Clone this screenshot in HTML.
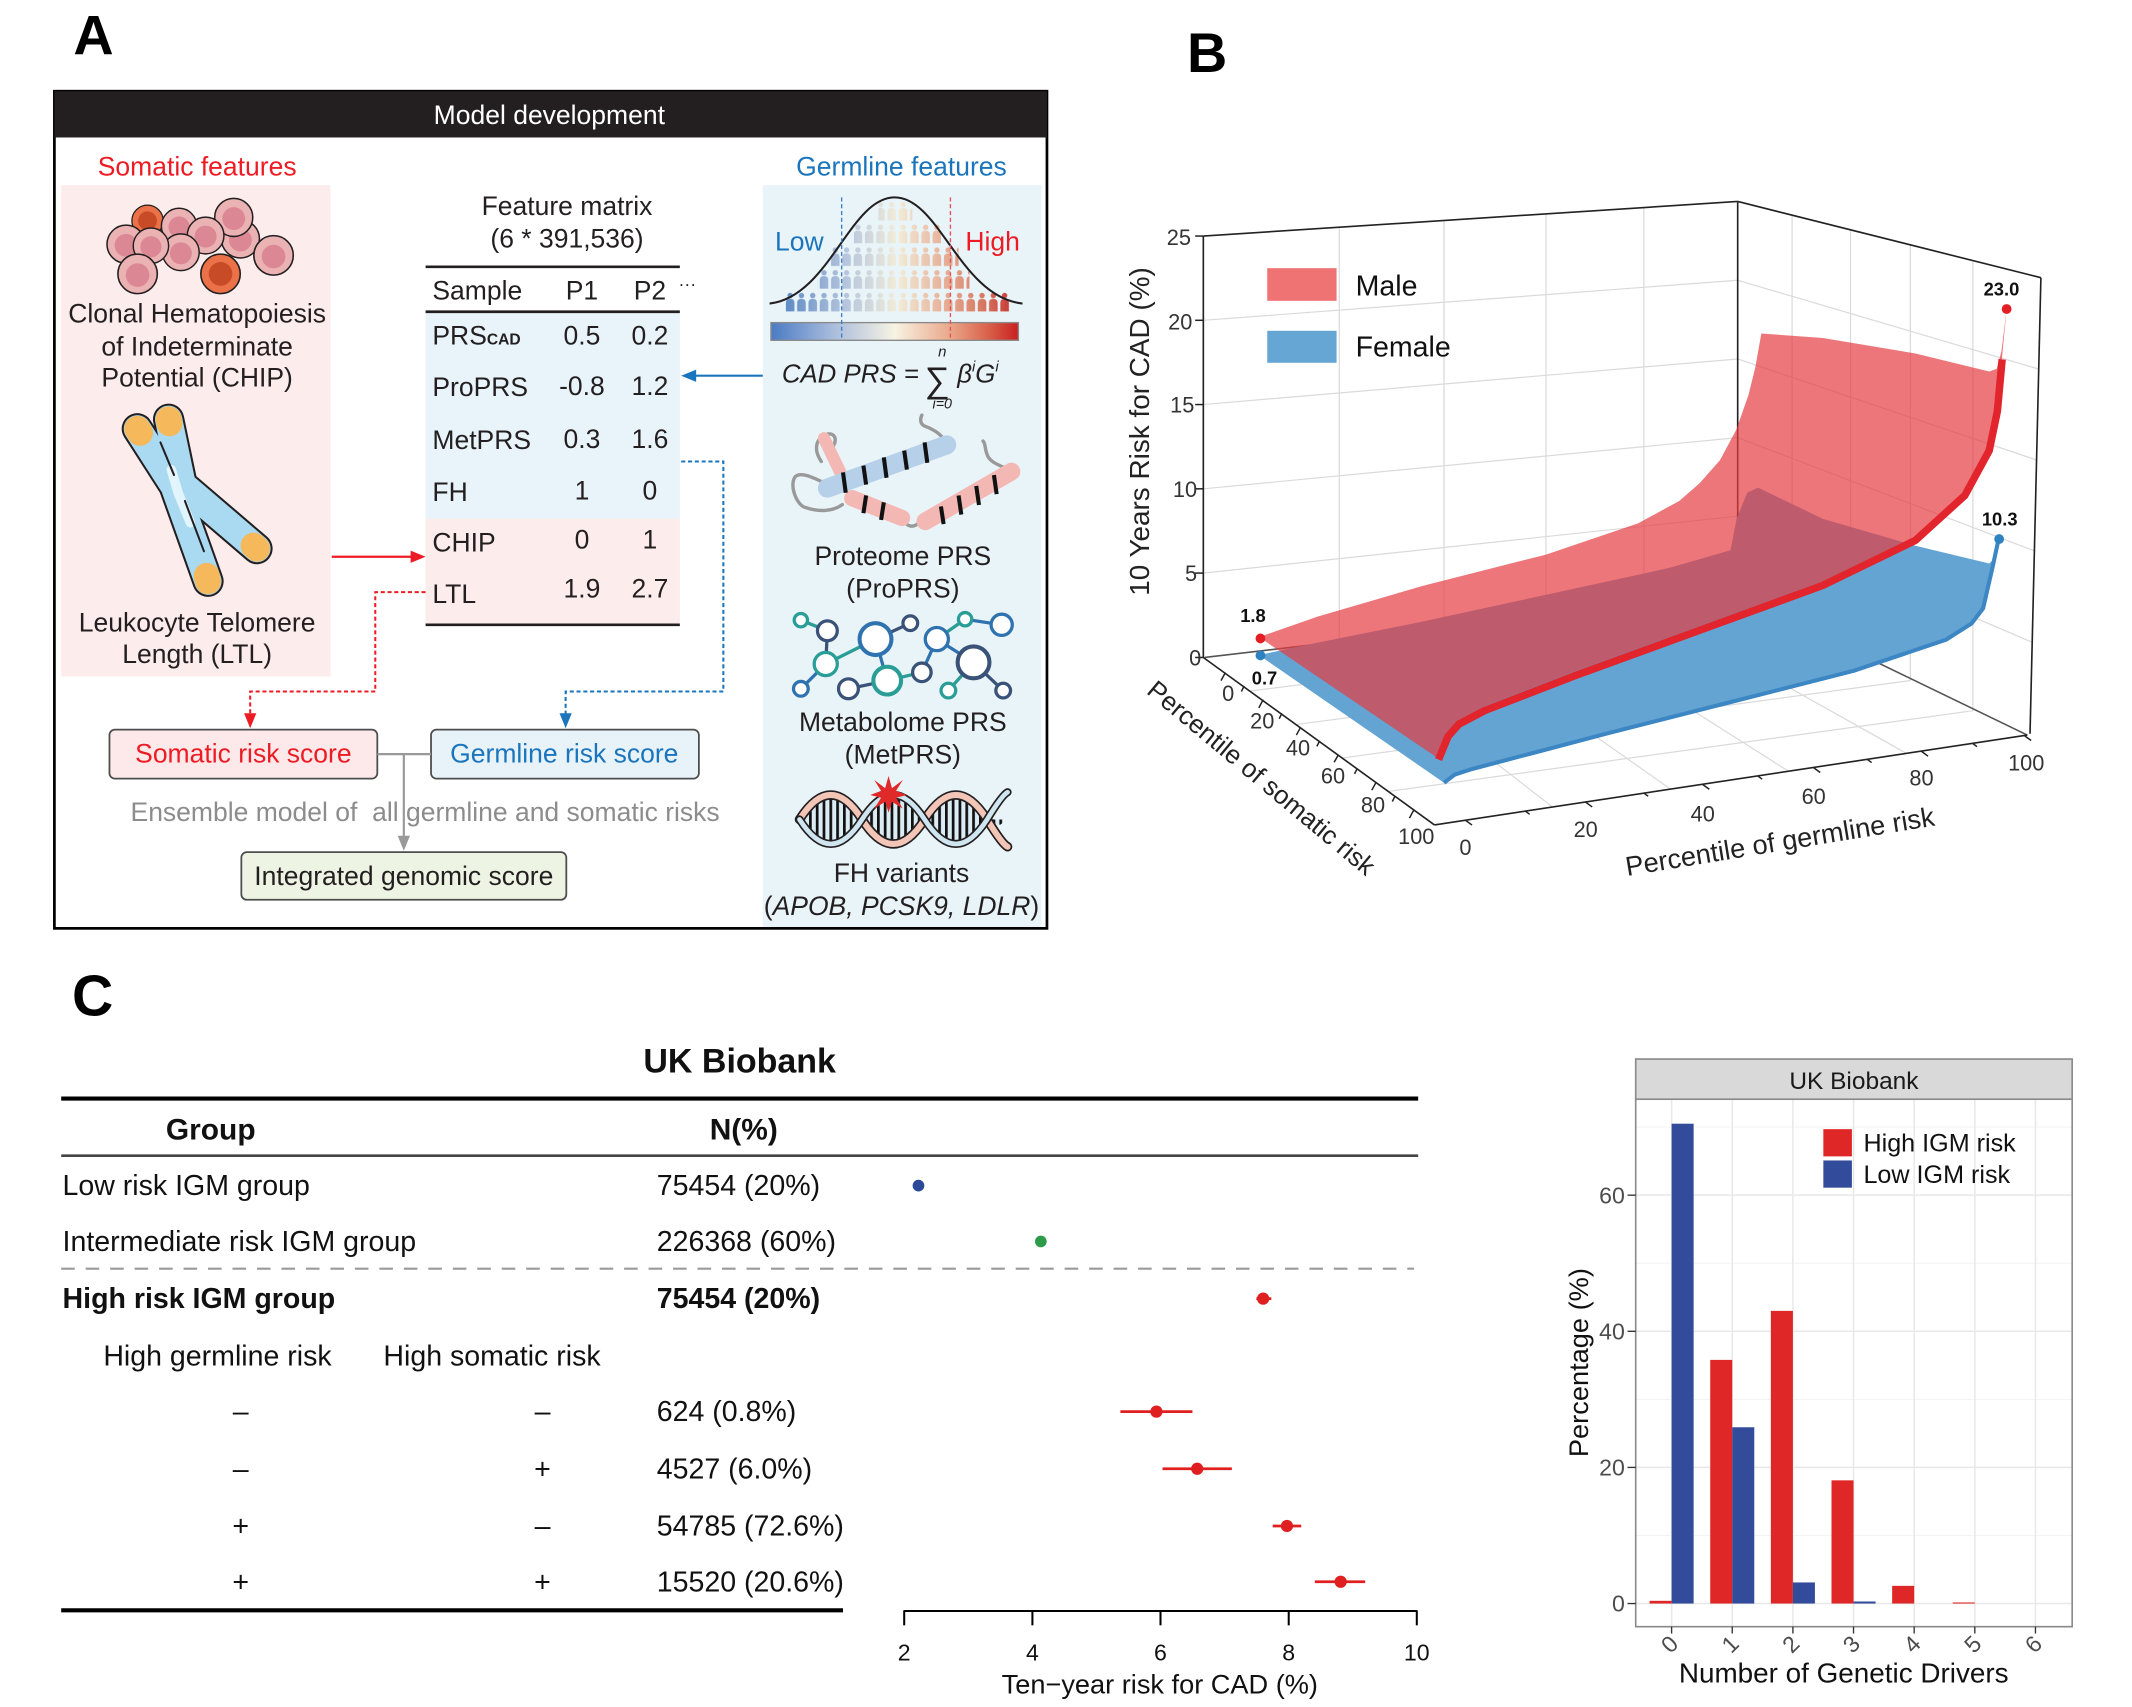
<!DOCTYPE html>
<html><head><meta charset="utf-8"><style>html,body{margin:0;padding:0;background:#fff;}svg{display:block;}</style></head>
<body>
<svg width="2132" height="1707" viewBox="0 0 1568 1254" preserveAspectRatio="none" xmlns="http://www.w3.org/2000/svg" font-family="'Liberation Sans', Arial, sans-serif">
<defs>
<linearGradient id="cbar" x1="0" x2="1" y1="0" y2="0">
<stop offset="0" stop-color="#4a7bc4"/><stop offset="0.25" stop-color="#a9bcdc"/><stop offset="0.5" stop-color="#f7f3e3"/><stop offset="0.72" stop-color="#eaa98c"/><stop offset="0.88" stop-color="#d9604a"/><stop offset="1" stop-color="#c8201f"/>
</linearGradient>
<linearGradient id="pg" gradientUnits="userSpaceOnUse" x1="577" x2="743" y1="0" y2="0">
<stop offset="0" stop-color="#4f7fc0"/><stop offset="0.28" stop-color="#b3c2da"/><stop offset="0.5" stop-color="#f3ecd6"/><stop offset="0.72" stop-color="#e6a488"/><stop offset="0.88" stop-color="#d66a50"/><stop offset="1" stop-color="#c42a25"/>
</linearGradient>
<pattern id="pp" patternUnits="userSpaceOnUse" x="577" y="148" width="8.3" height="16.7">
<circle cx="4.15" cy="2.3" r="2" fill="#fff"/>
<path d="M1,14 L1,7.5 Q1,4.7 4.15,4.7 Q7.3,4.7 7.3,7.5 L7.3,14 Z" fill="#fff"/>
</pattern>
<mask id="pm" maskUnits="userSpaceOnUse" x="560" y="140" width="200" height="100">
<rect x="646" y="148" width="25" height="15" fill="url(#pp)"/>
<rect x="628" y="164.7" width="64" height="15" fill="url(#pp)"/>
<rect x="611" y="181.4" width="94" height="15" fill="url(#pp)"/>
<rect x="601" y="198.1" width="112" height="15" fill="url(#pp)"/>
<rect x="577" y="214.8" width="166" height="15" fill="url(#pp)"/>
</mask>
<pattern id="stripes" patternUnits="userSpaceOnUse" width="5" height="10">
<rect width="5" height="10" fill="#dcecf5"/><rect width="2" height="10" fill="#111"/>
</pattern>
<g id="cellp"><circle r="1" fill="#ebb2b4" stroke="#231f20" stroke-width="0.08"/><circle r="0.6" cy="0.06" fill="#dc8894"/></g>
</defs>

<!-- ============ PANEL A ============ -->
<text x="54" y="40" font-size="41" font-weight="bold">A</text>
<rect x="40" y="67" width="730" height="615" fill="#fff" stroke="#000" stroke-width="2"/>
<rect x="40" y="67" width="730" height="34" fill="#231f20"/>
<text x="404" y="91" font-size="19.5" fill="#fff" text-anchor="middle">Model development</text>

<text x="145" y="129" font-size="19.5" fill="#ed1c24" text-anchor="middle">Somatic features</text>
<rect x="45" y="136" width="198" height="361" fill="#fdecec"/>
<!-- cells -->
<g>
<g transform="translate(108.5,162.2) scale(11.5)"><circle r="1" fill="#ea7148" stroke="#231f20" stroke-width="0.08"/><circle r="0.6" fill="#c64b26"/></g>
<use href="#cellp" transform="translate(131.7,166) scale(13)"/>
<use href="#cellp" transform="translate(176.8,175.5) scale(14)"/>
<use href="#cellp" transform="translate(171.9,159.7) scale(14)"/>
<use href="#cellp" transform="translate(151.2,173) scale(13.5)"/>
<use href="#cellp" transform="translate(133,185.3) scale(13.5)"/>
<use href="#cellp" transform="translate(92.7,179.4) scale(14)"/>
<use href="#cellp" transform="translate(111,180.5) scale(13)"/>
<use href="#cellp" transform="translate(201.2,187.6) scale(14.5)"/>
<use href="#cellp" transform="translate(101.2,201.2) scale(14.5)"/>
<g transform="translate(162.2,201.2) scale(14.5)"><circle r="1" fill="#ea7148" stroke="#231f20" stroke-width="0.08"/><circle r="0.6" fill="#c64b26"/></g>
</g>
<text font-size="19.5" fill="#231f20" text-anchor="middle"><tspan x="145" y="237">Clonal Hematopoiesis</tspan><tspan x="145" y="261">of Indeterminate</tspan><tspan x="145" y="284">Potential (CHIP)</tspan></text>
<!-- chromosome -->
<g fill="none" stroke-linecap="round" stroke-linejoin="round">
<path d="M101,315 L128,357 L153,427" stroke="#231f20" stroke-width="23"/>
<path d="M124,308 L134,356 L189,403" stroke="#231f20" stroke-width="23"/>
<path d="M101,315 L128,357 L153,427" stroke="#a9daf2" stroke-width="20"/>
<path d="M124,308 L134,356 L189,403" stroke="#a9daf2" stroke-width="20"/>
<path d="M126,345 L131,362 L140,384" stroke="#e2f4fc" stroke-width="7"/>
<line x1="101" y1="315" x2="103" y2="318" stroke="#f5b85a" stroke-width="19"/>
<line x1="152" y1="423" x2="153" y2="427" stroke="#f5b85a" stroke-width="19"/>
<line x1="124" y1="308" x2="124.6" y2="311" stroke="#f5b85a" stroke-width="19"/>
<line x1="186.5" y1="400.8" x2="189" y2="403" stroke="#f5b85a" stroke-width="19"/>
<path d="M118,325 L128,349" stroke="#231f20" stroke-width="1.5"/>
<path d="M136,368 L150,405" stroke="#231f20" stroke-width="1.5"/>
</g>
<text font-size="19.5" fill="#231f20" text-anchor="middle"><tspan x="145" y="464">Leukocyte Telomere</tspan><tspan x="145" y="487">Length (LTL)</tspan></text>

<!-- Feature matrix -->
<text font-size="19.5" fill="#231f20" text-anchor="middle"><tspan x="417" y="158">Feature matrix</tspan><tspan x="417" y="182">(6 * 391,536)</tspan></text>
<rect x="313" y="229" width="187" height="152" fill="#e8f4fa"/>
<rect x="313" y="381" width="187" height="78" fill="#fdecec"/>
<line x1="313" y1="196" x2="500" y2="196" stroke="#231f20" stroke-width="2"/>
<line x1="313" y1="229" x2="500" y2="229" stroke="#231f20" stroke-width="2"/>
<line x1="313" y1="459" x2="500" y2="459" stroke="#231f20" stroke-width="2"/>
<g font-size="19.5" fill="#231f20">
<text x="318" y="220">Sample</text><text x="428" y="220" text-anchor="middle">P1</text><text x="478" y="220" text-anchor="middle">P2</text>
<text x="499" y="213" font-size="13">···</text>
<text x="318" y="253">PRS<tspan font-size="11.5" font-weight="bold">CAD</tspan></text><text x="428" y="253" text-anchor="middle">0.5</text><text x="478" y="253" text-anchor="middle">0.2</text>
<text x="318" y="291">ProPRS</text><text x="428" y="290" text-anchor="middle">-0.8</text><text x="478" y="290" text-anchor="middle">1.2</text>
<text x="318" y="330">MetPRS</text><text x="428" y="329" text-anchor="middle">0.3</text><text x="478" y="329" text-anchor="middle">1.6</text>
<text x="318" y="368">FH</text><text x="428" y="367" text-anchor="middle">1</text><text x="478" y="367" text-anchor="middle">0</text>
<text x="318" y="405">CHIP</text><text x="428" y="403" text-anchor="middle">0</text><text x="478" y="403" text-anchor="middle">1</text>
<text x="318" y="443">LTL</text><text x="428" y="439" text-anchor="middle">1.9</text><text x="478" y="439" text-anchor="middle">2.7</text>
</g>

<!-- Germline features -->
<text x="663" y="129" font-size="19.5" fill="#1b75bc" text-anchor="middle">Germline features</text>
<rect x="561" y="136" width="205" height="545" fill="#e9f4f9"/>
<rect x="575" y="145" width="170" height="90" fill="url(#pg)" mask="url(#pm)" opacity="0.9"/>
<path d="M566,223 C610,218 625,145 658,145 C691,145 706,218 752,223" fill="none" stroke="#231f20" stroke-width="1.5"/>
<rect x="567" y="237" width="182" height="13" fill="url(#cbar)" stroke="#8a8a8a" stroke-width="1"/>
<line x1="619" y1="145" x2="619" y2="250" stroke="#3c7fc8" stroke-width="1" stroke-dasharray="3,2"/>
<line x1="699" y1="145" x2="699" y2="250" stroke="#e8505a" stroke-width="1" stroke-dasharray="3,2"/>
<text x="570" y="184" font-size="19.5" fill="#1b75bc">Low</text>
<text x="710" y="184" font-size="19.5" fill="#ed1c24">High</text>
<g fill="#231f20" font-style="italic">
<text x="575" y="281" font-size="19">CAD PRS =</text>
<text x="680" y="288" font-size="26" font-style="normal">∑</text>
<text x="693" y="262" font-size="11" text-anchor="middle">n</text>
<text x="693" y="300" font-size="10.5" text-anchor="middle">i=0</text>
<text x="704" y="281" font-size="19">β<tspan dy="-8" font-size="11">i</tspan><tspan dy="8" font-size="19">G</tspan><tspan dy="-8" font-size="11">i</tspan></text>
</g>
<!-- protein -->
<g fill="none" stroke-linecap="round" stroke-linejoin="round">
<path d="M611,357 C600,352 590,346 585,350 C580,356 586,372 593,373 C602,376 612,376 619.5,370.7" stroke="#999" stroke-width="2.5"/>
<path d="M604,339 C598,330 600,322 608,319 C616,317 616,327 610,330" stroke="#999" stroke-width="2.5"/>
<path d="M696,327 C694,320 688,316 680,313 C676,311 677,307 678,305" stroke="#999" stroke-width="2.5"/>
<path d="M663,380 C667,388 673,389 678,381" stroke="#999" stroke-width="2.5"/>
<path d="M744,346 C736,342 728,340 726,334 C724,329 725,326 723,324" stroke="#999" stroke-width="2.5"/>
<path d="M606,322 L619,349" stroke="#f4b8b4" stroke-width="9"/>
<path d="M608.5,358.6 L696.3,326.8" stroke="#b7d0ea" stroke-width="14"/>
<path d="M626.8,366 L663.4,380.5" stroke="#f4b8b4" stroke-width="12"/>
<path d="M680.5,383 L743.9,346.4" stroke="#f4b8b4" stroke-width="13"/>
</g>
<g stroke="#111" stroke-width="3">
<line x1="620" y1="347" x2="622" y2="362"/><line x1="635" y1="342" x2="637" y2="356"/><line x1="650" y1="336" x2="652" y2="351"/><line x1="665" y1="331" x2="667" y2="345"/><line x1="680" y1="325" x2="682" y2="340"/>
<line x1="637" y1="364" x2="635" y2="377"/><line x1="650" y1="369" x2="648" y2="382"/>
<line x1="692" y1="372" x2="694" y2="385"/><line x1="705" y1="364" x2="707" y2="378"/><line x1="718" y1="357" x2="720" y2="371"/><line x1="731" y1="349" x2="733" y2="363"/>
</g>
<text font-size="19.5" fill="#231f20" text-anchor="middle"><tspan x="664" y="415">Proteome PRS</tspan><tspan x="664" y="439">(ProPRS)</tspan></text>
<!-- network -->
<g stroke-width="2.4">
<line x1="589" y1="455.6" x2="608.5" y2="463.4" stroke="#2a9d96"/>
<line x1="608.5" y1="463.4" x2="607.3" y2="487.8" stroke="#3a5278"/>
<line x1="607.3" y1="487.8" x2="643.9" y2="469.5" stroke="#2a9d96"/>
<line x1="643.9" y1="469.5" x2="669.5" y2="457.8" stroke="#3a5278"/>
<line x1="643.9" y1="469.5" x2="652.5" y2="500" stroke="#2f72b0"/>
<line x1="607.3" y1="487.8" x2="589" y2="506" stroke="#2f72b0"/>
<line x1="624" y1="506" x2="652.5" y2="500" stroke="#3a5278"/>
<line x1="652.5" y1="500" x2="678" y2="493.9" stroke="#2a9d96"/>
<line x1="678" y1="493.9" x2="689" y2="469.5" stroke="#2f72b0"/>
<line x1="689" y1="469.5" x2="709.8" y2="454.9" stroke="#2a9d96"/>
<line x1="709.8" y1="454.9" x2="736.7" y2="459" stroke="#2f72b0"/>
<line x1="689" y1="469.5" x2="716" y2="486.6" stroke="#2f72b0"/>
<line x1="716" y1="486.6" x2="697.5" y2="507.3" stroke="#2a9d96"/>
<line x1="716" y1="486.6" x2="737.8" y2="507.3" stroke="#3a5278"/>
</g>
<g fill="#fff" stroke-width="2.4">
<circle cx="589" cy="455.6" r="4.9" stroke="#2a9d96"/>
<circle cx="608.5" cy="463.4" r="7.3" stroke="#3a5278"/>
<circle cx="643.9" cy="469.5" r="11.7" stroke="#2f72b0" stroke-width="3"/>
<circle cx="669.5" cy="457.8" r="5.4" stroke="#3a5278"/>
<circle cx="689" cy="469.5" r="8.5" stroke="#2f72b0"/>
<circle cx="709.8" cy="454.9" r="4.9" stroke="#2a9d96"/>
<circle cx="736.7" cy="459" r="7.8" stroke="#2f72b0"/>
<circle cx="607.3" cy="487.8" r="8.5" stroke="#2a9d96"/>
<circle cx="589" cy="506" r="5.4" stroke="#2f72b0"/>
<circle cx="624" cy="506" r="7.3" stroke="#3a5278"/>
<circle cx="652.5" cy="500" r="10.2" stroke="#2a9d96" stroke-width="3"/>
<circle cx="678" cy="493.9" r="6.8" stroke="#3a5278"/>
<circle cx="716" cy="486.6" r="11.7" stroke="#3a5278" stroke-width="3"/>
<circle cx="697.5" cy="507.3" r="5.4" stroke="#2a9d96"/>
<circle cx="737.8" cy="507.3" r="5.4" stroke="#3a5278"/>
</g>
<text font-size="19.5" fill="#231f20" text-anchor="middle"><tspan x="664" y="537">Metabolome PRS</tspan><tspan x="664" y="561">(MetPRS)</tspan></text>
<!-- DNA -->
<g>
<path d="M590,602 Q611,566 634,602 T680,602 T726,602 L738,602 Q737,610 726,602 Q703,638 680,602 Q657,566 634,602 Q611,638 590,602 Z" fill="url(#stripes)"/>
<path d="M588,602 Q611,566 634,602 T680,602 T726,602 Q737,620 741,622" fill="none" stroke="#231f20" stroke-width="7" stroke-linecap="round"/>
<path d="M588,602 Q611,566 634,602 T680,602 T726,602 Q737,620 741,622" fill="none" stroke="#f3c5b7" stroke-width="4.5" stroke-linecap="round"/>
<path d="M588,602 Q611,638 634,602 T680,602 T726,602 Q737,584 741,582" fill="none" stroke="#231f20" stroke-width="6" stroke-linecap="round"/>
<path d="M588,602 Q611,638 634,602 T680,602 T726,602 Q737,584 741,582" fill="none" stroke="#cfe5f0" stroke-width="3.5" stroke-linecap="round"/>
<polygon points="653.5,570 656,579 664,573 659,581 667,584 659,586 664,594 656,589 653.5,597 651,589 643,594 648,586 640,584 648,581 643,573 651,579" fill="#e02a2a"/>
</g>
<text x="663" y="648" font-size="19.5" fill="#231f20" text-anchor="middle">FH variants</text>
<text x="663" y="672" font-size="19.5" fill="#231f20" text-anchor="middle">(<tspan font-style="italic">APOB, PCSK9, LDLR</tspan>)</text>

<!-- arrows -->
<line x1="561" y1="276" x2="510" y2="276" stroke="#1b75bc" stroke-width="1.6"/>
<polygon points="501,276 512,271.5 512,280.5" fill="#1b75bc"/>
<line x1="244" y1="409" x2="304" y2="409" stroke="#ed1c24" stroke-width="1.6"/>
<polygon points="313,409 302,404.5 302,413.5" fill="#ed1c24"/>
<polyline points="313,435 276,435 276,508 184,508 184,526" fill="none" stroke="#ed1c24" stroke-width="1.5" stroke-dasharray="3,2"/>
<polygon points="184,535 179.5,524 188.5,524" fill="#ed1c24"/>
<polyline points="501,339 532,339 532,508 416,508 416,526" fill="none" stroke="#1b75bc" stroke-width="1.5" stroke-dasharray="3,2"/>
<polygon points="416,535 411.5,524 420.5,524" fill="#1b75bc"/>

<!-- score boxes -->
<rect x="80.5" y="536" width="197" height="36" rx="4" fill="#fde9e9" stroke="#4d4d4d" stroke-width="1.3"/>
<text x="179" y="560" font-size="19.5" fill="#ed1c24" text-anchor="middle">Somatic risk score</text>
<rect x="317" y="536" width="197" height="36" rx="4" fill="#e7f3f9" stroke="#4d4d4d" stroke-width="1.3"/>
<text x="415" y="560" font-size="19.5" fill="#1b75bc" text-anchor="middle">Germline risk score</text>
<line x1="277.5" y1="554" x2="317" y2="554" stroke="#999" stroke-width="1.6"/>
<line x1="297" y1="554" x2="297" y2="616" stroke="#999" stroke-width="1.6"/>
<polygon points="297,625 292.5,614 301.5,614" fill="#999"/>
<text x="96" y="603" font-size="19.5" fill="#8c8c8c">Ensemble model of&#160; all germline and somatic risks</text>
<rect x="177.5" y="626" width="239" height="35" rx="4" fill="#eef4e3" stroke="#4d4d4d" stroke-width="1.3"/>
<text x="297" y="650" font-size="19.5" fill="#231f20" text-anchor="middle">Integrated genomic score</text>

<!-- ============ PANEL B ============ -->
<text x="873" y="53" font-size="41" font-weight="bold">B</text>
<g stroke="#dadada" stroke-width="0.9" fill="none">
<line x1="985" y1="167" x2="985" y2="471.3"/><line x1="1062" y1="162" x2="1062" y2="462.4"/><line x1="1137" y1="157.2" x2="1137" y2="453.6"/><line x1="1209" y1="152.5" x2="1209" y2="445.2"/>
<line x1="885" y1="235.3" x2="1278" y2="205.9"/><line x1="885" y1="297.2" x2="1278" y2="263.7"/><line x1="885" y1="359.1" x2="1278" y2="321.5"/><line x1="885" y1="421" x2="1278" y2="379.2"/>
<line x1="1278" y1="205.9" x2="1499" y2="271"/><line x1="1278" y1="263.7" x2="1498" y2="338"/><line x1="1278" y1="321.5" x2="1497" y2="405"/><line x1="1278" y1="379.2" x2="1495" y2="472"/>
<line x1="1318" y1="157.7" x2="1318" y2="457.8"/><line x1="1361" y1="168.6" x2="1361" y2="478.6"/><line x1="1405" y1="179.7" x2="1405" y2="499.9"/><line x1="1451" y1="191.3" x2="1451" y2="522.1"/>
<line x1="985" y1="471.3" x2="1141.9" y2="592.9"/><line x1="1062" y1="462.4" x2="1228.7" y2="579.8"/><line x1="1137" y1="453.6" x2="1315.6" y2="566.7"/><line x1="1209" y1="445.2" x2="1402.4" y2="553.6"/>
<line x1="919.8" y1="507.6" x2="1318" y2="457.8"/><line x1="953.6" y1="532.2" x2="1361" y2="478.6"/><line x1="987.4" y1="556.8" x2="1405" y2="499.9"/><line x1="1021.2" y1="581.4" x2="1451" y2="522.1"/>
</g>
<g stroke="#222" stroke-width="1.2" fill="none">
<line x1="885" y1="173.4" x2="1278" y2="148"/>
<line x1="1278" y1="148" x2="1501" y2="204"/>
<line x1="1278" y1="148" x2="1278" y2="437"/>
<line x1="1501" y1="204" x2="1493" y2="539"/>
<line x1="886" y1="483" x2="1278" y2="437" stroke="#555"/>
<line x1="1278" y1="437" x2="1491" y2="540" stroke="#555"/>
<line x1="885" y1="173.4" x2="885" y2="483"/>
<line x1="885" y1="483" x2="1055" y2="606"/>
<line x1="1055" y1="606" x2="1491" y2="540"/>
</g>
<g stroke="#222" stroke-width="1.1">
<line x1="879" y1="173.4" x2="885" y2="173.4"/><line x1="879" y1="235.3" x2="885" y2="235.3"/><line x1="879" y1="297.2" x2="885" y2="297.2"/><line x1="879" y1="359.1" x2="885" y2="359.1"/><line x1="879" y1="421" x2="885" y2="421"/><line x1="879" y1="483" x2="885" y2="483"/>
<line x1="901.2" y1="494.1" x2="898" y2="500"/><line x1="929" y1="514" x2="925.8" y2="520"/><line x1="956.6" y1="534.2" x2="953.4" y2="540"/><line x1="984.4" y1="554.4" x2="981.2" y2="560"/><line x1="1012.1" y1="574.6" x2="1008.9" y2="580.5"/><line x1="1039.8" y1="595" x2="1036.6" y2="601"/>
<line x1="915" y1="504" x2="913" y2="508"/><line x1="942.8" y1="524" x2="940.8" y2="528"/><line x1="970.5" y1="544.3" x2="968.5" y2="548.3"/><line x1="998.2" y1="564.5" x2="996.2" y2="568.5"/><line x1="1026" y1="584.8" x2="1024" y2="588.8"/>
<line x1="1077.8" y1="602.6" x2="1082.6" y2="606.1"/><line x1="1166.2" y1="589.3" x2="1171" y2="592.8"/><line x1="1252.3" y1="576.3" x2="1257.1" y2="579.8"/><line x1="1333.9" y1="564" x2="1338.7" y2="567.5"/><line x1="1413.2" y1="552" x2="1418" y2="555.5"/><line x1="1489" y1="540.5" x2="1493.8" y2="544"/>
<line x1="1122" y1="596" x2="1125" y2="598.2"/><line x1="1209.2" y1="582.8" x2="1212.2" y2="585"/><line x1="1293" y1="570.2" x2="1296" y2="572.4"/><line x1="1373.5" y1="558" x2="1376.5" y2="560.2"/><line x1="1451" y1="546.3" x2="1454" y2="548.5"/>
</g>
<g font-size="16" fill="#333" text-anchor="middle">
<text x="867" y="180">25</text><text x="868" y="242">20</text><text x="869.5" y="303">15</text><text x="871.5" y="365">10</text><text x="876" y="427">5</text><text x="879" y="489">0</text>
<text x="903.3" y="515">0</text><text x="928.3" y="535">20</text><text x="954.6" y="555">40</text><text x="980.4" y="575.5">60</text><text x="1009.8" y="597">80</text><text x="1041.6" y="620">100</text>
<text x="1077.8" y="628">0</text><text x="1166.2" y="615">20</text><text x="1252.3" y="603.5">40</text><text x="1333.9" y="590.5">60</text><text x="1413.2" y="577">80</text><text x="1490.2" y="566">100</text>
</g>
<!-- surfaces -->
<path d="M926,481.3 L1062,575 L1070,569 L1082.4,565 L1182,538.8 L1272.7,515.8 L1363.3,492.8 L1431.3,469.9 L1450,458 L1458.5,446.9 L1465.3,417.3 L1469.9,396 L1465,412 L1463,414 L1408.7,400.9 L1340.7,381.2 L1293,358.2 L1285,362 L1277.2,381.2 L1272.7,404.2 L1227.4,417.3 L1136.7,437 L1046,456.7 L955.5,474.8 Z" fill="#63a4d3"/>
<path d="M1062,575 L1070,569 L1082.4,565 L1182,538.8 L1272.7,515.8 L1363.3,492.8 L1431.3,469.9 L1450,458 L1458.5,446.9 L1465.3,417.3 L1469.9,396" fill="none" stroke="#3c86c4" stroke-width="3"/>
<path d="M926,468 L969,453 L1046,430.5 L1136.7,407.5 L1204.7,384.5 L1235,368 L1250,355 L1265,338 L1277,315.6 L1286,290 L1291,269.6 L1295.4,245 L1340.7,248.3 L1408.7,259.7 L1463,272.9 L1468.5,271 L1472,258 L1475.8,227 L1472.5,262 L1469,300 L1463,328.7 L1445,361.5 L1408.7,394.3 L1340.7,427.2 L1250,460 L1159.4,492.8 L1091.4,519.1 L1072,530 L1064.2,538.8 L1057.4,556.9 Z" fill="rgb(230,60,65)" fill-opacity="0.7"/>
<path d="M1058,558 L1065,541 L1073,532 L1092,522 L1159.4,496 L1250,463 L1340.7,430 L1408.7,397 L1445,364 L1463,331 L1469,302 L1472.5,264" fill="none" stroke="rgb(226,36,44)" stroke-width="5.5"/>
<circle cx="927" cy="469" r="3.6" fill="#e31e24"/>
<circle cx="927" cy="481.5" r="3.6" fill="#2f82c0"/>
<circle cx="1475.8" cy="227" r="3.6" fill="#e31e24"/>
<circle cx="1470.3" cy="396" r="3.6" fill="#2f82c0"/>
<g font-size="13.5" font-weight="bold" fill="#111" text-anchor="middle">
<text x="921.5" y="457">1.8</text><text x="930" y="503">0.7</text><text x="1472" y="217">23.0</text><text x="1470.7" y="386">10.3</text>
</g>
<rect x="932" y="197" width="51" height="24" fill="#ef7373"/>
<rect x="932" y="243" width="51" height="23.5" fill="#66a6d4"/>
<text x="997" y="217" font-size="21" fill="#111">Male</text>
<text x="997" y="262" font-size="21" fill="#111">Female</text>
<text transform="translate(838,317) rotate(-90)" x="0" y="7" font-size="20.5" fill="#222" text-anchor="middle">10 Years Risk for CAD (%)</text>
<text transform="translate(1309,618) rotate(-9.3)" x="0" y="7" font-size="20" fill="#222" text-anchor="middle">Percentile of germline risk</text>
<text transform="translate(928,571) rotate(39.8)" x="0" y="7" font-size="19" fill="#222" text-anchor="middle">Percentile of somatic risk</text>

<!-- ============ PANEL C ============ -->
<text x="53" y="746" font-size="42" font-weight="bold">C</text>
<text x="544" y="788" font-size="25" font-weight="bold" text-anchor="middle" fill="#111">UK Biobank</text>
<line x1="45" y1="807" x2="1043" y2="807" stroke="#000" stroke-width="3"/>
<text x="155" y="837" font-size="22" font-weight="bold" text-anchor="middle" fill="#111">Group</text>
<text x="547" y="837" font-size="22" font-weight="bold" text-anchor="middle" fill="#111">N(%)</text>
<line x1="45" y1="849" x2="1043" y2="849" stroke="#444" stroke-width="2"/>
<line x1="45" y1="932" x2="1040" y2="932" stroke="#9a9a9a" stroke-width="1.5" stroke-dasharray="10,8"/>
<g font-size="21" fill="#111">
<text x="46" y="878">Low risk IGM group</text><text x="483" y="878">75454 (20%)</text>
<text x="46" y="919">Intermediate risk IGM group</text><text x="483" y="919">226368 (60%)</text>
<text x="46" y="961" font-weight="bold">High risk IGM group</text><text x="483" y="961" font-weight="bold">75454 (20%)</text>
<text x="76" y="1003">High germline risk</text><text x="282" y="1003">High somatic risk</text>
<text x="177" y="1044" text-anchor="middle">–</text><text x="399" y="1044" text-anchor="middle">–</text><text x="483" y="1044">624 (0.8%)</text>
<text x="177" y="1086" text-anchor="middle">–</text><text x="399" y="1086" text-anchor="middle">+</text><text x="483" y="1086">4527 (6.0%)</text>
<text x="177" y="1128" text-anchor="middle">+</text><text x="399" y="1128" text-anchor="middle">–</text><text x="483" y="1128">54785 (72.6%)</text>
<text x="177" y="1169" text-anchor="middle">+</text><text x="399" y="1169" text-anchor="middle">+</text><text x="483" y="1169">15520 (20.6%)</text>
</g>
<line x1="45" y1="1183" x2="620" y2="1183" stroke="#000" stroke-width="3"/>
<!-- forest -->
<circle cx="675.5" cy="871" r="4.3" fill="#2c4a9a"/>
<circle cx="765.5" cy="912" r="4.3" fill="#2e9b4a"/>
<g stroke="#e02020" stroke-width="2">
<line x1="924" y1="954" x2="935" y2="954"/>
<line x1="824" y1="1037" x2="877" y2="1037"/>
<line x1="855" y1="1079" x2="906" y2="1079"/>
<line x1="936" y1="1121" x2="957" y2="1121"/>
<line x1="967" y1="1162" x2="1004" y2="1162"/>
</g>
<g fill="#e02020">
<circle cx="929" cy="954" r="4.5"/><circle cx="850.5" cy="1037" r="4.5"/><circle cx="880.5" cy="1079" r="4.5"/><circle cx="946.5" cy="1121" r="4.5"/><circle cx="986" cy="1162" r="4.5"/>
</g>
<line x1="665" y1="1183.5" x2="1042" y2="1183.5" stroke="#000" stroke-width="1.5"/>
<g stroke="#000" stroke-width="1.5">
<line x1="665" y1="1183" x2="665" y2="1194"/><line x1="759.3" y1="1183" x2="759.3" y2="1194"/><line x1="853.5" y1="1183" x2="853.5" y2="1194"/><line x1="947.8" y1="1183" x2="947.8" y2="1194"/><line x1="1042" y1="1183" x2="1042" y2="1194"/>
</g>
<g font-size="17" fill="#111" text-anchor="middle">
<text x="665" y="1220">2</text><text x="759.3" y="1220">4</text><text x="853.5" y="1220">6</text><text x="947.8" y="1220">8</text><text x="1042" y="1220">10</text>
</g>
<text x="853" y="1244" font-size="20" fill="#111" text-anchor="middle">Ten−year risk for CAD (%)</text>

<!-- bar chart -->
<rect x="1203" y="807.5" width="321" height="387.5" fill="#fff"/>
<g stroke="#f3f3f3" stroke-width="0.7">
<line x1="1203" y1="1128" x2="1524" y2="1128"/><line x1="1203" y1="1028" x2="1524" y2="1028"/><line x1="1203" y1="928" x2="1524" y2="928"/><line x1="1203" y1="828" x2="1524" y2="828"/>
</g>
<g stroke="#e8e8e8" stroke-width="1.1">
<line x1="1203" y1="1178" x2="1524" y2="1178"/><line x1="1203" y1="1078" x2="1524" y2="1078"/><line x1="1203" y1="978" x2="1524" y2="978"/><line x1="1203" y1="878" x2="1524" y2="878"/>
<line x1="1229.4" y1="807.5" x2="1229.4" y2="1195"/><line x1="1274" y1="807.5" x2="1274" y2="1195"/><line x1="1318.6" y1="807.5" x2="1318.6" y2="1195"/><line x1="1363.2" y1="807.5" x2="1363.2" y2="1195"/><line x1="1407.8" y1="807.5" x2="1407.8" y2="1195"/><line x1="1452.4" y1="807.5" x2="1452.4" y2="1195"/><line x1="1497" y1="807.5" x2="1497" y2="1195"/>
</g>
<g fill="#de2726">
<rect x="1213.2" y="1176" width="16.2" height="2"/>
<rect x="1257.8" y="999" width="16.2" height="179"/>
<rect x="1302.4" y="963" width="16.2" height="215"/>
<rect x="1347" y="1087.5" width="16.2" height="90.5"/>
<rect x="1391.6" y="1165" width="16.2" height="13"/>
<rect x="1436.2" y="1177.2" width="16.2" height="0.8"/>
</g>
<g fill="#324b9b">
<rect x="1229.4" y="825.5" width="16.2" height="352.5"/>
<rect x="1274" y="1048.5" width="16.2" height="129.5"/>
<rect x="1318.6" y="1162.5" width="16.2" height="15.5"/>
<rect x="1363.2" y="1176.5" width="16.2" height="1.5"/>
</g>
<rect x="1341" y="829.5" width="21" height="20" fill="#de2726"/>
<rect x="1341" y="852.5" width="21" height="20" fill="#324b9b"/>
<text x="1370.5" y="846" font-size="18.5" fill="#111">High IGM risk</text>
<text x="1370.5" y="869" font-size="18.5" fill="#111">Low IGM risk</text>
<rect x="1203" y="807.5" width="321" height="387.5" fill="none" stroke="#8a8a8a" stroke-width="1.2"/>
<rect x="1203" y="778" width="321" height="29.5" fill="#d9d9d9" stroke="#8a8a8a" stroke-width="1.2"/>
<text x="1363.5" y="800" font-size="18" fill="#1a1a1a" text-anchor="middle">UK Biobank</text>
<g stroke="#333" stroke-width="1">
<line x1="1197" y1="1178" x2="1203" y2="1178"/><line x1="1197" y1="1078" x2="1203" y2="1078"/><line x1="1197" y1="978" x2="1203" y2="978"/><line x1="1197" y1="878" x2="1203" y2="878"/>
<line x1="1229.4" y1="1195" x2="1229.4" y2="1200"/><line x1="1274" y1="1195" x2="1274" y2="1200"/><line x1="1318.6" y1="1195" x2="1318.6" y2="1200"/><line x1="1363.2" y1="1195" x2="1363.2" y2="1200"/><line x1="1407.8" y1="1195" x2="1407.8" y2="1200"/><line x1="1452.4" y1="1195" x2="1452.4" y2="1200"/><line x1="1497" y1="1195" x2="1497" y2="1200"/>
</g>
<g font-size="17" fill="#4d4d4d" text-anchor="end">
<text x="1195" y="1184">0</text><text x="1195" y="1084">20</text><text x="1195" y="984">40</text><text x="1195" y="884">60</text>
</g>
<g font-size="17" fill="#4d4d4d" text-anchor="middle">
<text transform="translate(1232,1212) rotate(-45)">0</text>
<text transform="translate(1276.6,1212) rotate(-45)">1</text>
<text transform="translate(1321.2,1212) rotate(-45)">2</text>
<text transform="translate(1365.8,1212) rotate(-45)">3</text>
<text transform="translate(1410.4,1212) rotate(-45)">4</text>
<text transform="translate(1455,1212) rotate(-45)">5</text>
<text transform="translate(1499.6,1212) rotate(-45)">6</text>
</g>
<text x="1356" y="1236" font-size="20.5" fill="#111" text-anchor="middle">Number of Genetic Drivers</text>
<text transform="translate(1161,1001) rotate(-90)" x="0" y="7" font-size="20" fill="#111" text-anchor="middle">Percentage (%)</text>
</svg>
</body></html>
